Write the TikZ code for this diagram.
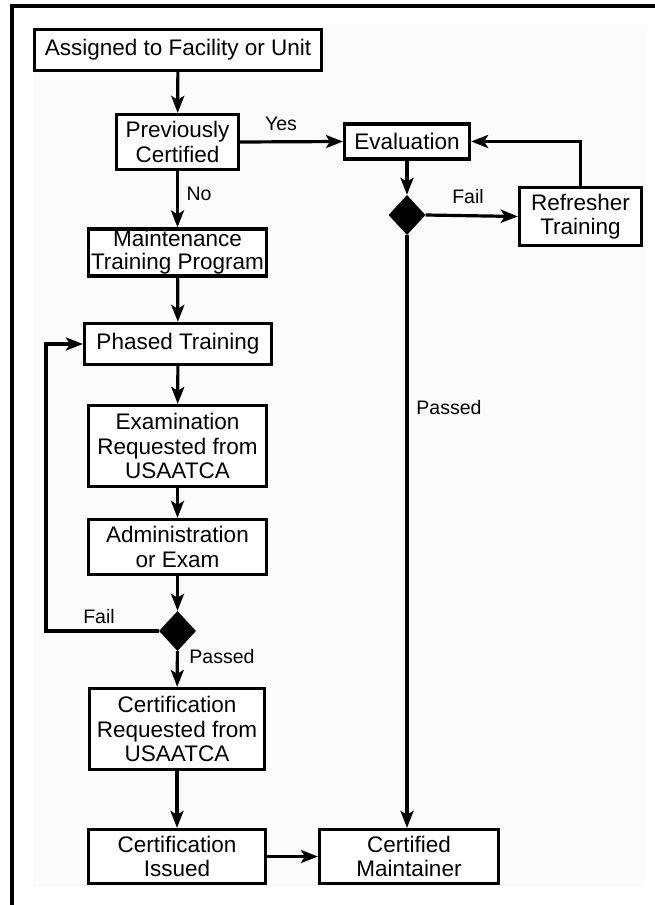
\documentclass[tikz,border=0pt]{standalone}
\usepackage{fontspec}
\setmainfont{Liberation Sans}
\usetikzlibrary{arrows.meta,shapes.geometric}
\begin{document}
\begin{tikzpicture}[x=1bp,y=-1bp,
  box/.style={draw,line width=3.2bp,fill=white,align=center,inner sep=0pt,
    font=\fontsize{22.5bp}{24.5bp}\selectfont},
  dia/.style={diamond,fill=black,draw=none,inner sep=0pt,minimum width=37bp,minimum height=40bp},
  lbl/.style={font=\fontsize{19.5bp}{21bp}\selectfont,inner sep=0pt},
  conn/.style={line width=3.2bp,-{Stealth[length=17bp,width=13bp,inset=4bp]}},
  plain/.style={line width=3.2bp}]
\useasboundingbox (0,0) rectangle (655,905);
\fill[gray!3] (33,25) rectangle (645,886);
\draw[line width=3.2bp] (12,905) -- (12,6) -- (655,6);

% left column
\node[box,minimum width=287bp,minimum height=41bp] (a) at (178,50) {Assigned to Facility or Unit};
\node[box,minimum width=122bp,minimum height=55bp] (pc) at (177.5,142) {Previously\\Certified};
\node[box,minimum width=178bp,minimum height=47bp] (mtp) at (177.5,252.5) {Maintenance\\[-1.5bp]Training Program};
\node[box,minimum width=187bp,minimum height=41bp] (pt) at (178,344) {Phased Training};
\node[box,minimum width=178bp,minimum height=81bp] (ex) at (177.5,446) {Examination\\Requested from\\USAATCA};
\node[box,minimum width=178bp,minimum height=55bp] (adm) at (177.5,547) {Administration\\or Exam};
\node[dia] (d1) at (177.5,631) {};
\node[box,minimum width=175bp,minimum height=81bp] (cr) at (177,729) {Certification\\Requested from\\USAATCA};
\node[box,minimum width=177bp,minimum height=54bp] (ci) at (177,856.5) {Certification\\Issued};

% right column
\node[box,minimum width=125bp,minimum height=35bp] (ev) at (407,141.5) {Evaluation};
\node[dia] (d2) at (407,215) {};
\node[box,minimum width=122bp,minimum height=58bp] (rt) at (580.5,216.5) {Refresher\\Training};
\node[box,minimum width=179bp,minimum height=54bp] (cm) at (409,856.5) {Certified\\Maintainer};

% connectors
\draw[conn] (a) -- (pc);
\draw[conn] (pc.east) -- (ev.west);
\draw[conn] (pc) -- (mtp);
\draw[conn] (mtp) -- (pt);
\draw[conn] (pt) -- (ex);
\draw[conn] (ex) -- (adm);
\draw[conn] (adm) -- (d1);
\coordinate (lp) at (46,631);
\draw[conn] (d1.west) -- (lp) |- (pt.west);
\draw[conn] (d1) -- (cr);
\draw[conn] (cr) -- (ci);
\draw[conn] (ci) -- (cm);
\draw[conn] (ev) -- (d2);
\draw[conn] (d2.east) -- (rt.west);
\draw[conn] (rt.north) |- (ev.east);
\draw[conn] (d2.south) -- (d2.south |- cm.north);

% labels
\node[lbl] (yes) at (281,124) {Yes};
\node[lbl] (no) at (199,194) {No};
\node[lbl] (fail1) at (99,617) {Fail};
\node[lbl] (pass1) at (222,657) {Passed};
\node[lbl] (fail2) at (468,197) {Fail};
\node[lbl] (pass2) at (449,408) {Passed};
\end{tikzpicture}
\end{document}
